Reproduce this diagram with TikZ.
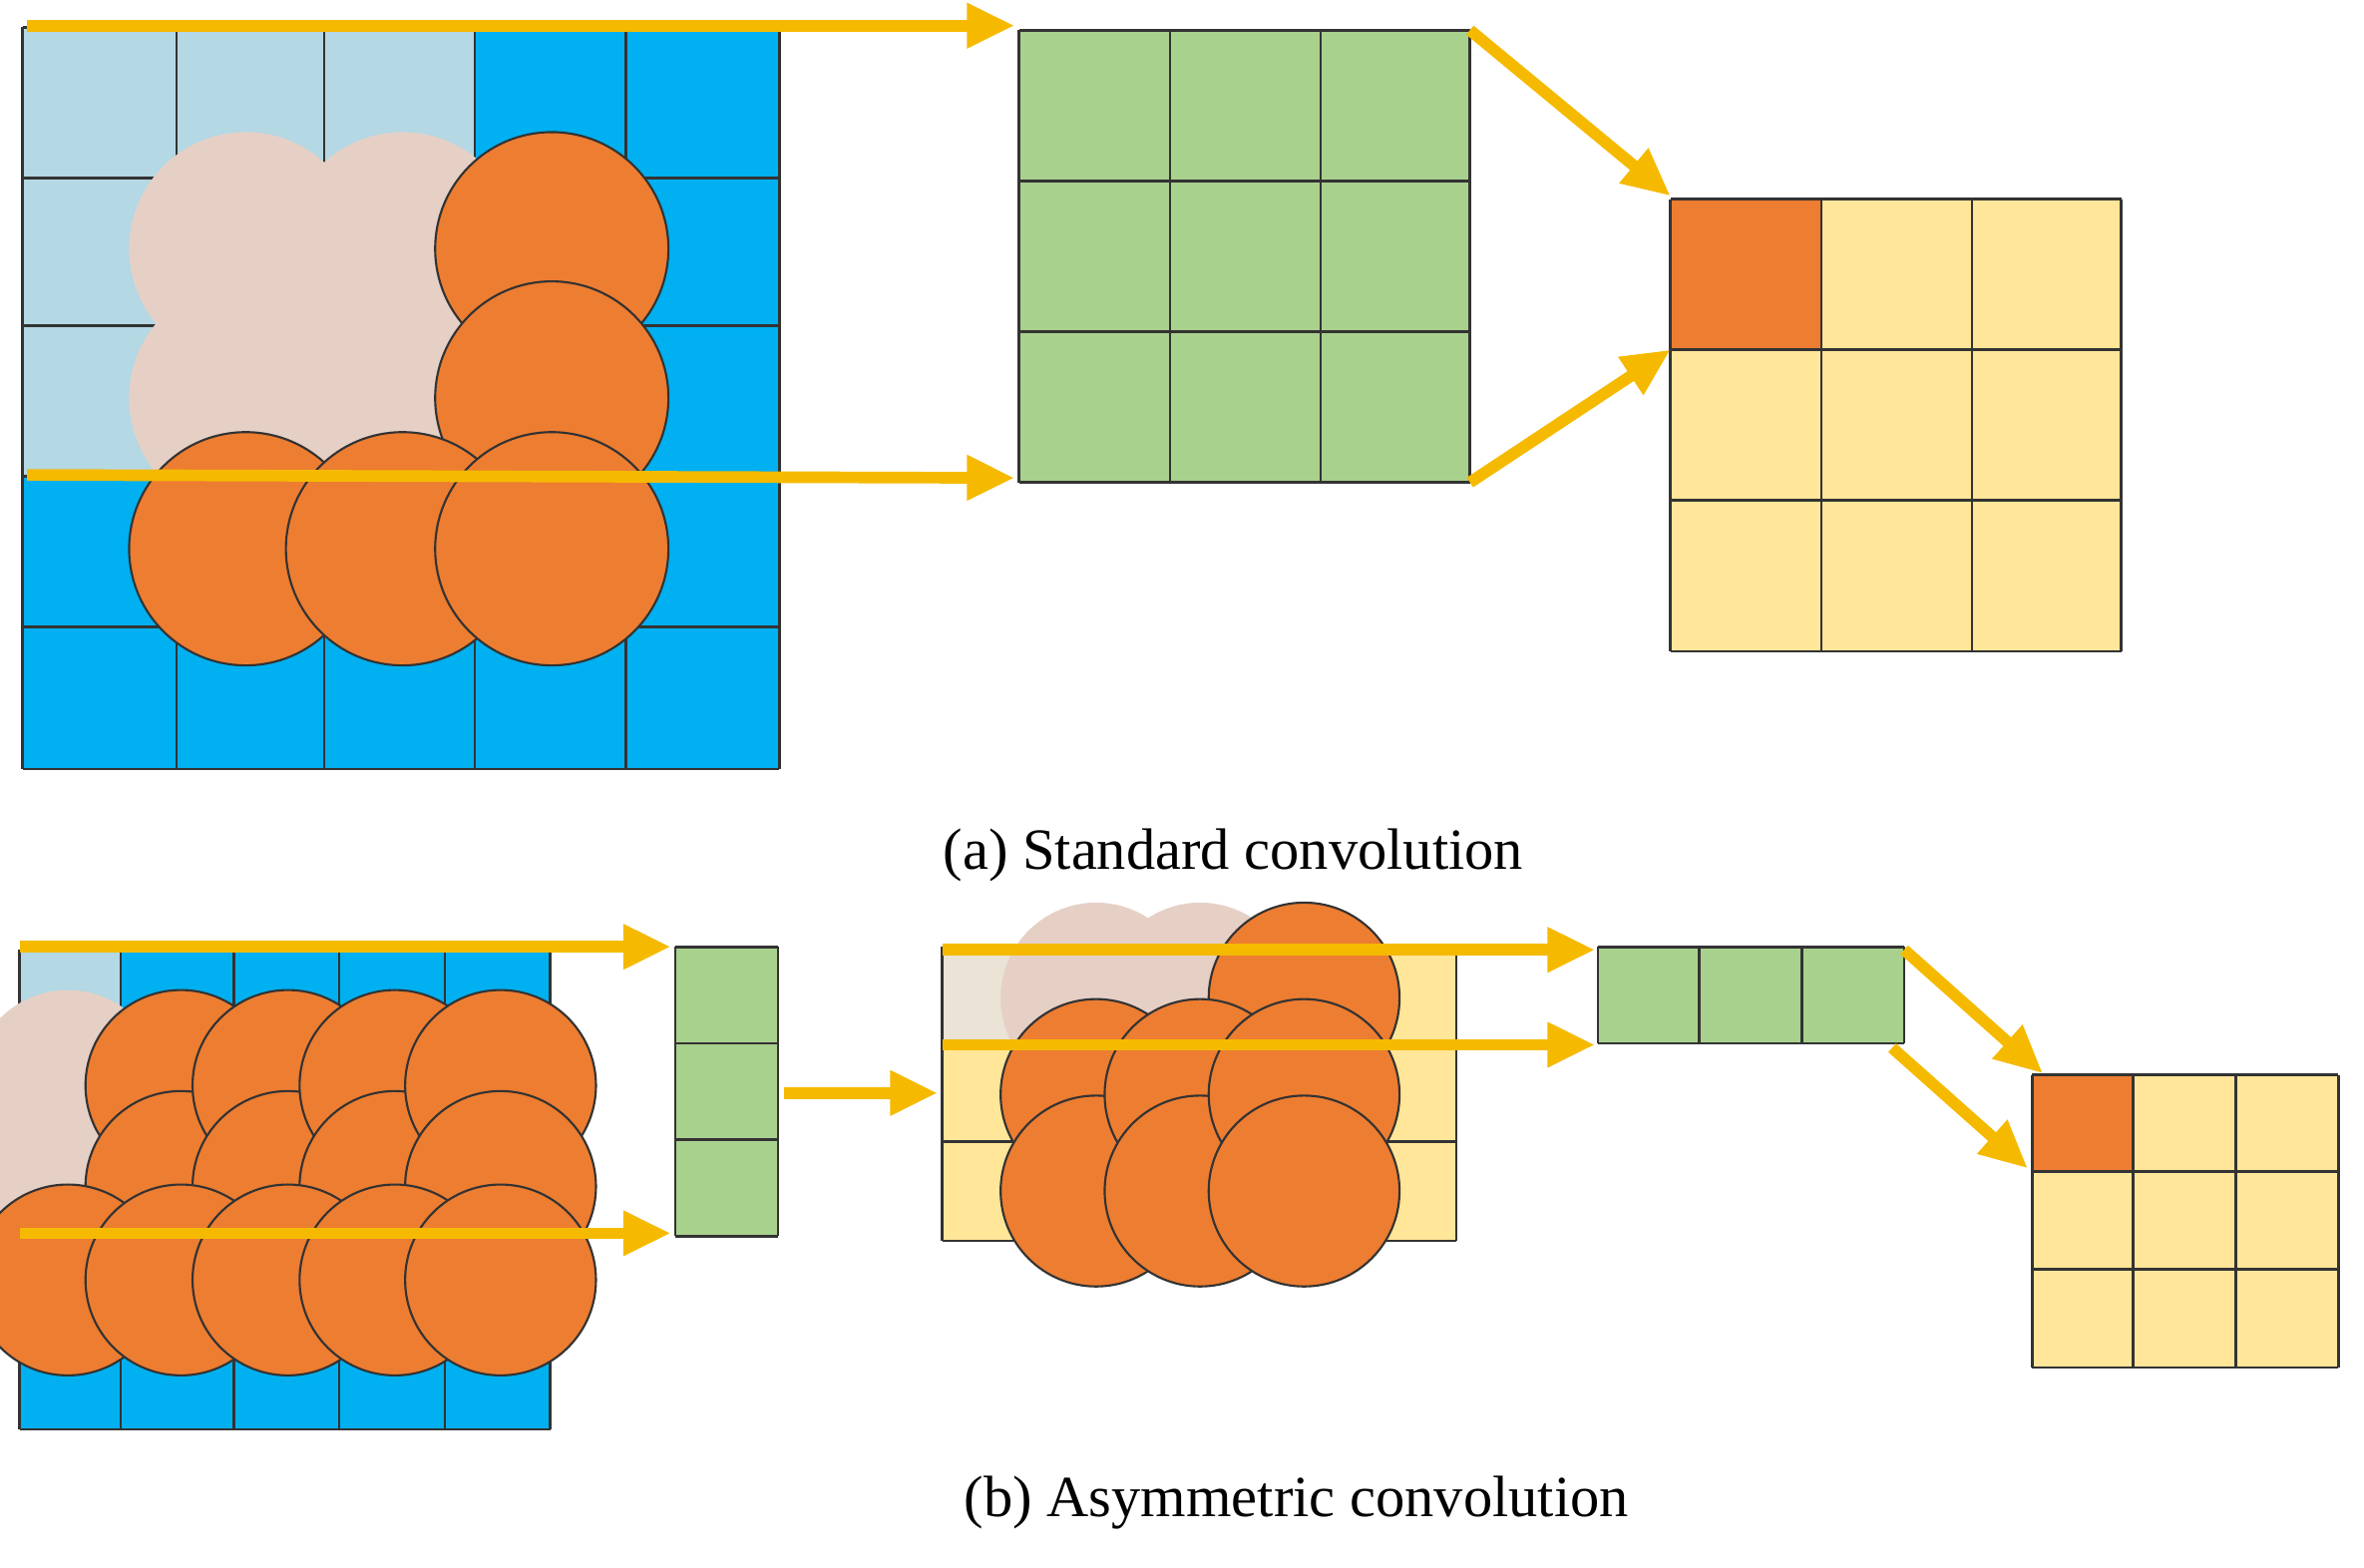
\documentclass[tikz,border=0pt]{standalone}
\usepackage{fontspec}
\setmainfont{Liberation Serif}
\usetikzlibrary{arrows.meta}
\definecolor{lb}{HTML}{B4D8E4}
\definecolor{bb}{HTML}{00B0F0}
\definecolor{gr}{HTML}{A9D18E}
\definecolor{yl}{HTML}{FFE699}
\definecolor{og}{HTML}{ED7D31}
\definecolor{pk}{HTML}{E6D0C6}
\definecolor{bg}{HTML}{EAE3D6}
\definecolor{ar}{HTML}{F5BA00}
\begin{document}
\begin{tikzpicture}[x=0.01cm,y=-0.01cm,
  cell/.style={draw=black!80,line width=0.5pt},
  dot/.style={circle,draw=black!80,line width=0.4pt,fill=og,minimum size=#1,inner sep=0pt},
  pdot/.style={circle,draw=none,fill=pk,minimum size=#1,inner sep=0pt},
  arr/.style={draw=ar,line width=2.2pt,-{Triangle[length=9pt,width=8pt]}},
  captext/.style={font=\fontsize{11}{13}\selectfont}]
\useasboundingbox (0,0) rectangle (1568,1040);
% ---------- (a) ----------
\fill[bb] (15,18) rectangle (517,510);
\fill[lb] (15,18) rectangle (315,316);
\foreach \x in {15,117,215,315,415,517} \draw[cell] (\x,18) -- (\x,510);
\foreach \y in {18,118,216,316,416,510} \draw[cell] (15,\y) -- (517,\y);
\foreach \x/\y [count=\i] in {163/165,267/165,163/264,267/264} \node[pdot=44] (ap\i) at (\x,\y) {};
\foreach \x/\y [count=\i] in {366/165,366/264,163/364,267/364,366/364} \node[dot=44] (ao\i) at (\x,\y) {};
\fill[gr] (676,20) rectangle (975,320);
\foreach \x in {676,776,876,975} \draw[cell] (\x,20) -- (\x,320);
\foreach \y in {20,120,220,320} \draw[cell] (676,\y) -- (975,\y);
\fill[yl] (1108,132) rectangle (1407,432);
\fill[og] (1108,132) rectangle (1208,232);
\foreach \x in {1108,1208,1308,1407} \draw[cell] (\x,132) -- (\x,432);
\foreach \y in {132,232,332,432} \draw[cell] (1108,\y) -- (1407,\y);
\coordinate (a1s) at (18,17); \coordinate (a1e) at (673,17);
\coordinate (a2s) at (18,315); \coordinate (a2e) at (673,317);
\coordinate (a3s) at (975,20); \coordinate (a3e) at (1108,130);
\coordinate (a4s) at (975,320); \coordinate (a4e) at (1108,232);
\foreach \i in {1,2,3,4} \draw[arr] (a\i s) -- (a\i e);
\node[captext] (capa) at (818,567) {(a) Standard convolution};
% ---------- (b) ----------
\fill[bb] (13,630) rectangle (365,948);
\fill[lb] (13,630) rectangle (80,820);
\foreach \x in {13,80,155,225,295,365} \draw[cell] (\x,630) -- (\x,948);
\foreach \y in {630,690,755,820,885,948} \draw[cell] (13,\y) -- (365,\y);
\node[pdot=36] (bp1) at (45,720) {};
\node[pdot=36] (bp2) at (45,787) {};
\foreach \x in {120,191,262,332} {\node[dot=36] at (\x,720) {}; \node[dot=36] at (\x,787) {};}
\foreach \x in {45,120,191,262,332} \node[dot=36] at (\x,849) {};
\fill[gr] (448,628) rectangle (516,820);
\foreach \y in {628,692,756,820} \draw[cell] (448,\y) -- (516,\y);
\foreach \x in {448,516} \draw[cell] (\x,628) -- (\x,820);
\fill[yl] (625,628) rectangle (966,823);
\fill[bg] (625,628) rectangle (828,692);
\foreach \x in {625,692,760,828,896,966} \draw[cell] (\x,628) -- (\x,823);
\foreach \y in {628,692,757,823} \draw[cell] (625,\y) -- (966,\y);
\node[pdot=36] at (727,662) {};
\node[pdot=36] at (796,662) {};
\node[dot=36] at (865,662) {};
\foreach \x in {727,796,865} {\node[dot=36] at (\x,726) {}; \node[dot=36] at (\x,790) {};}
\fill[gr] (1060,628) rectangle (1263,692);
\foreach \x in {1060,1127,1195,1263} \draw[cell] (\x,628) -- (\x,692);
\foreach \y in {628,692} \draw[cell] (1060,\y) -- (1263,\y);
\fill[yl] (1348,713) rectangle (1551,907);
\fill[og] (1348,713) rectangle (1415,777);
\foreach \x in {1348,1415,1483,1551} \draw[cell] (\x,713) -- (\x,907);
\foreach \y in {713,777,842,907} \draw[cell] (1348,\y) -- (1551,\y);
\coordinate (b1s) at (13,628); \coordinate (b1e) at (445,628);
\coordinate (b2s) at (13,818); \coordinate (b2e) at (445,818);
\coordinate (b3s) at (520,725); \coordinate (b3e) at (622,725);
\coordinate (b4s) at (625,630); \coordinate (b4e) at (1058,630);
\coordinate (b5s) at (625,693); \coordinate (b5e) at (1058,693);
\coordinate (b6s) at (1263,630); \coordinate (b6e) at (1355,712);
\coordinate (b7s) at (1255,695); \coordinate (b7e) at (1345,775);
\foreach \i in {1,...,7} \draw[arr] (b\i s) -- (b\i e);
\node[captext] (capb) at (860,997) {(b) Asymmetric convolution};
\end{tikzpicture}
\end{document}
